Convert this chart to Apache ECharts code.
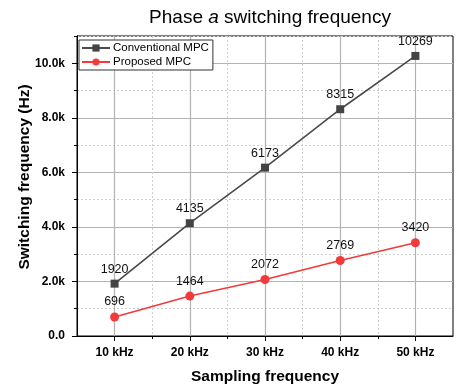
<!DOCTYPE html>
<html><head><meta charset="utf-8">
<script src="https://cdn.jsdelivr.net/npm/echarts@6/dist/echarts.min.js"></script>
<style>html,body{margin:0;padding:0;background:#fff}#c{width:456px;height:390px}</style>
</head><body><div id="c"></div>
<script>
const samplingFreq = [10, 20, 30, 40, 50];
const conventionalMPC = [1920, 4135, 6173, 8315, 10269];
const proposedMPC = [696, 1464, 2072, 2769, 3420];
const yTicks = [0, 2000, 4000, 6000, 8000, 10000];

const axisCats = [];
for (let v = samplingFreq[0] - 5; v <= samplingFreq[samplingFreq.length - 1] + 5; v += 5) axisCats.push(String(v));
const isMajor = (i, v) => Number(v) % 10 === 0;
const isMinor = (i, v) => Number(v) % 10 !== 0 && i > 0 && i < axisCats.length - 1;
const FONT = 'Arial, "Liberation Sans", sans-serif';

const chart = echarts.init(document.getElementById('c'), null, {renderer: 'canvas'});
chart.setOption({
  animation: false,
  title: {
    text: 'Phase {i|a} switching frequency',
    left: 265, top: 3, textAlign: 'center',
    textStyle: {fontFamily: FONT, fontSize: 19, fontWeight: 'normal', color: '#000',
      rich: {i: {fontFamily: FONT, fontSize: 19, fontStyle: 'italic', color: '#000'}}}
  },
  graphic: [{
    type: 'text', x: 25, y: 177, rotation: Math.PI / 2,
    style: {text: 'Switching frequency (Hz)', fontFamily: FONT, fontSize: 15.5, fontWeight: 'bold',
      fill: '#000', align: 'center', verticalAlign: 'middle'}
  }],
  grid: {left: 77, right: 3, top: 36, bottom: 50, show: true, borderColor: '#000', borderWidth: 1, backgroundColor: 'transparent'},
  legend: {
    orient: 'vertical', left: 79, top: 40,
    backgroundColor: '#fff', borderColor: '#333', borderWidth: 1, borderRadius: 0,
    padding: [2, 4, 2, 2], itemGap: 2, itemWidth: 28, itemHeight: 9,
    textStyle: {fontFamily: FONT, fontSize: 11.5, color: '#000', padding: [0, 0, 0, -2]},
    data: ['Conventional MPC', 'Proposed MPC']
  },
  xAxis: [{
    type: 'category', data: axisCats, boundaryGap: false,
    name: 'Sampling frequency', nameLocation: 'middle', nameGap: 33,
    nameTextStyle: {fontFamily: FONT, fontSize: 15.5, fontWeight: 'bold', color: '#000'},
    axisLine: {lineStyle: {color: '#000', width: 1}},
    axisTick: {show: true, interval: isMajor, length: 5, lineStyle: {color: '#000'}},
    axisLabel: {interval: isMajor, formatter: v => v + ' kHz', margin: 11,
      fontFamily: FONT, fontSize: 12, fontWeight: 'bold', color: '#000'},
    splitLine: {show: true, interval: isMajor, lineStyle: {color: '#b3b3b3', width: 1.2}}
  }, {
    type: 'category', data: axisCats, boundaryGap: false, position: 'bottom',
    axisLine: {show: false},
    axisTick: {show: true, interval: isMinor, length: 3, lineStyle: {color: '#000'}},
    axisLabel: {show: false},
    splitLine: {show: true, interval: isMinor, lineStyle: {color: '#cfcfcf', width: 1, type: [2, 2]}}
  }],
  yAxis: [{
    type: 'value', min: 0, max: 11000, interval: 1000,
    axisLine: {show: true, lineStyle: {color: '#000'}},
    axisTick: {show: true, length: 3, lineStyle: {color: '#000'}},
    axisLabel: {show: false},
    splitLine: {show: true, lineStyle: {color: '#cfcfcf', width: 1, type: [2, 2]}}
  }, {
    type: 'value', min: 0, max: 11000, interval: 2000, position: 'left',
    axisLine: {show: true, lineStyle: {color: '#000'}},
    axisTick: {show: true, length: 5, customValues: yTicks, lineStyle: {color: '#000'}},
    axisLabel: {margin: 12, customValues: yTicks, fontFamily: FONT, fontSize: 12, fontWeight: 'bold', color: '#000',
      formatter: v => v === 0 ? '0.0' : (v / 1000).toFixed(1) + 'k'},
    splitLine: {show: true, lineStyle: {color: '#b3b3b3', width: 1.2}}
  }],
  series: [{
    name: 'Conventional MPC', type: 'line', xAxisIndex: 0, yAxisIndex: 0,
    data: samplingFreq.map((f, i) => [String(f), conventionalMPC[i]]),
    symbol: 'rect', symbolSize: 8,
    lineStyle: {color: '#4a4a4a', width: 1.6}, itemStyle: {color: '#444'},
    label: {show: true, position: 'top', distance: 4, fontFamily: FONT, fontSize: 12.5, color: '#111'},
    z: 3
  }, {
    name: 'Proposed MPC', type: 'line', xAxisIndex: 0, yAxisIndex: 0,
    data: samplingFreq.map((f, i) => [String(f), proposedMPC[i]]),
    symbol: 'circle', symbolSize: 9,
    lineStyle: {color: '#f23a3a', width: 1.6}, itemStyle: {color: '#f23a3a'},
    label: {show: true, position: 'top', distance: 4, fontFamily: FONT, fontSize: 12.5, color: '#111'},
    z: 3
  }]
});
</script></body></html>
